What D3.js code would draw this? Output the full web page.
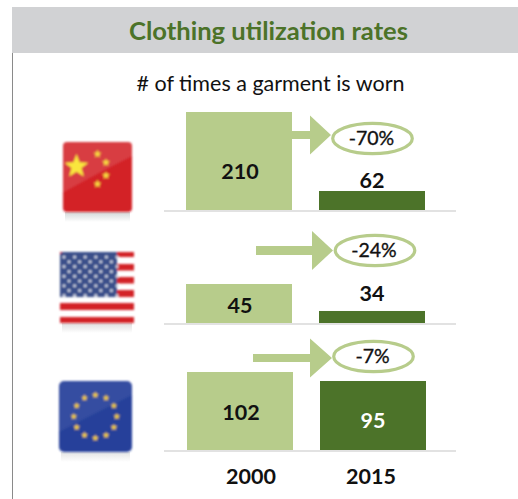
<!DOCTYPE html>
<html><head><meta charset="utf-8">
<script src="https://cdn.jsdelivr.net/npm/d3@7"></script>
<style>html,body{margin:0;padding:0;background:#fff}svg{display:block}text{font-family:Lato,sans-serif}</style>
</head><body><svg id="c" width="518" height="499"></svg>
<script>
const title = "Clothing utilization rates";
const subtitle = "# of times a garment is worn";
const years = ["2000", "2015"];
const regions = ["China", "USA", "EU"];
const values2000 = [210, 45, 102];
const values2015 = [62, 34, 95];
const changes = ["-70%", "-24%", "-7%"];
// The picture's bars do not start at zero: each panel has its own truncated value range
const domainFloor = [26.4, 29.1, 41.3];

const GREEN_L = "#b7cc8b", GREEN_D = "#4c7329", GREY = "#d1d2d4";
const svg = d3.select("#c");
const defs = svg.append("defs");
defs.append("filter").attr("id","soft").attr("x","-10%").attr("y","-10%").attr("width","120%").attr("height","120%")
  .append("feGaussianBlur").attr("stdDeviation",0.9);
defs.append("filter").attr("id","glossBlur").attr("x","-10%").attr("y","-20%").attr("width","120%").attr("height","140%")
  .append("feGaussianBlur").attr("stdDeviation",1.2);

// header
svg.append("rect").attr("x",12).attr("y",7).attr("width",506).attr("height",46).attr("fill",GREY);
svg.append("line").attr("x1",12.5).attr("x2",12.5).attr("y1",53).attr("y2",499).attr("stroke","#8a8a8a").attr("stroke-width",1);
svg.append("text").attr("x",268.5).attr("y",39.5).attr("text-anchor","middle").attr("font-size",25.6).attr("font-weight",700).attr("fill",GREEN_D).text(title);
svg.append("text").attr("x",270.5).attr("y",91).attr("text-anchor","middle").attr("font-size",21.5).attr("fill","#111").text(subtitle);

// panel layout
const band = (a,b)=>d3.scaleBand().domain(years).range([a,b]).paddingInner(0.203);
const panels = [
  {base:210, top:112, bx:band(186,425), lab:[171,180], arrow:{x0:292,xb:310,xt:331,cy:135,sh:4,hh:19.5}, ell:[372.5,138.5]},
  {base:323, top:284, bx:band(186,425), lab:[305,293], arrow:{x0:256,xb:312,xt:333,cy:250.5,sh:4.5,hh:19.5}, ell:[375,250.5]},
  {base:450, top:372, bx:band(187,426), lab:[412,420], arrow:{x0:253,xb:310,xt:332,cy:358,sh:4,hh:19.5}, ell:[373.5,356.5]}
];

panels.forEach((p,i)=>{
  const y = d3.scaleLinear().domain([domainFloor[i], values2000[i]]).range([p.base,p.top]);
  const vals = [values2000[i], values2015[i]];
  const g = svg.append("g").attr("class","panel");
  g.append("line").attr("x1",164).attr("x2",456).attr("y1",p.base+1).attr("y2",p.base+1).attr("stroke","#d9d9d9").attr("stroke-width",1.5);
  g.selectAll("rect.bar").data(vals).join("rect").attr("class","bar")
    .attr("x",(d,j)=>p.bx(years[j])).attr("width",p.bx.bandwidth())
    .attr("y",d=>y(d)).attr("height",d=>p.base-y(d))
    .attr("fill",(d,j)=>j?GREEN_D:GREEN_L);
  const a = p.arrow;
  g.append("path").attr("fill",GREEN_L).attr("d",
    `M${a.x0},${a.cy-a.sh}H${a.xb}V${a.cy-a.hh}L${a.xt},${a.cy}L${a.xb},${a.cy+a.hh}V${a.cy+a.sh}H${a.x0}Z`);
  g.append("ellipse").attr("cx",p.ell[0]).attr("cy",p.ell[1]).attr("rx",39.8).attr("ry",15.2)
    .attr("fill","#fff").attr("stroke",GREEN_L).attr("stroke-width",3.2);
  g.append("text").attr("x",p.ell[0]-1).attr("y",p.ell[1]+6.5).attr("text-anchor","middle").attr("font-size",19.5).attr("font-weight",400)
    .attr("fill","#111").attr("stroke","#111").attr("stroke-width",0.35).text(changes[i]);
  g.selectAll("text.val").data(vals).join("text").attr("class","val")
    .attr("x",(d,j)=>p.bx(years[j])+p.bx.bandwidth()/2+(j?0:1))
    .attr("y",(d,j)=>p.lab[j]+7.5).attr("text-anchor","middle").attr("font-size",21.5).attr("font-weight",700)
    .attr("fill",(d,j)=>(i===2&&j===1)?"#fff":"#111").text(d=>d);
});

// year labels
const bxLast = panels[2].bx;
svg.selectAll("text.year").data(years).join("text").attr("class","year")
  .attr("x",d=>bxLast(d)+bxLast.bandwidth()/2+(d==="2000"?11:-2)).attr("y",483.5)
  .attr("text-anchor","middle").attr("font-size",21.5).attr("font-weight",700).attr("fill","#111").text(d=>d);

// flags
function starPath(cx,cy,R){
  const r=R*0.42; let s="";
  for(let k=0;k<10;k++){const an=-Math.PI/2+k*Math.PI/5, q=k%2?r:R;
    s+=(k?"L":"M")+(cx+q*Math.cos(an)).toFixed(2)+","+(cy+q*Math.sin(an)).toFixed(2);}
  return s+"Z";
}
function reflection(x,y,w,c){
  const id="rf"+x;
  const lg=defs.append("linearGradient").attr("id",id).attr("x1",0).attr("x2",0).attr("y1",0).attr("y2",1);
  lg.append("stop").attr("offset",0).attr("stop-color",c).attr("stop-opacity",0.45);
  lg.append("stop").attr("offset",1).attr("stop-color",c).attr("stop-opacity",0);
  svg.append("rect").attr("x",x+2).attr("y",y).attr("width",w-4).attr("height",10).attr("fill","url(#"+id+")");
}
function gloss(g,x,y,w,h,op){
  g.append("path").attr("fill","#fff").attr("opacity",op)
   .attr("d",`M${x},${y+3}Q${x},${y} ${x+3},${y}H${x+w-3}Q${x+w},${y} ${x+w},${y+3}V${y+h*0.2}Q${x+w*0.55},${y+h*0.42} ${x},${y+h*0.72}Z`);
}
// China
reflection(63,212,69,"#9aa8a8");
const cn=svg.append("g").attr("filter","url(#soft)");
cn.append("rect").attr("x",63).attr("y",142).attr("width",69).attr("height",70).attr("rx",4).attr("fill","#d32027");
gloss(cn,63,142,69,70,0.13);
cn.append("path").attr("d",starPath(76.5,166.5,12.5)).attr("fill","#f9e63c");
[[97.5,154,4.2],[106,162.5,4.2],[106,175.5,4.2],[97.5,184,4.2]].forEach(s=>cn.append("path").attr("d",starPath(s[0],s[1],s[2])).attr("fill","#f8dc40"));
// USA
reflection(60,323,74,"#b5b5b5");
const us=svg.append("g").attr("filter","url(#soft)");
[[252,5],[264,6.5],[277,6.5],[290,7],[303,7],[317,6]].forEach(s=>us.append("rect").attr("x",60).attr("y",s[0]).attr("width",74).attr("height",s[1]).attr("fill","#d32027"));
us.append("path").attr("d","M64,252H117V297H60V256Q60,252 64,252Z").attr("fill","#3a4f8a");
for(let r=0;r<9;r++){const odd=r%2; const n=odd?5:6;
  for(let c=0;c<n;c++){
    us.append("circle").attr("cx",64+(odd?5:0)+c*10.6).attr("cy",257+r*4.8).attr("r",1.5).attr("fill","#d5dbe8");
  }}
// EU
reflection(59,452,73,"#c2c2c2");
const eu=svg.append("g").attr("filter","url(#soft)");
eu.append("rect").attr("x",59).attr("y",381).attr("width",73).attr("height",71).attr("rx",5).attr("fill","#26409a");
gloss(eu,59,381,73,71,0.07);
d3.range(12).forEach(k=>{const an=k*Math.PI/6;
  eu.append("path").attr("d",starPath(95.3+21.5*Math.sin(an),416.5-21.5*Math.cos(an),3.6)).attr("fill","#f8cf35");});
</script></body></html>
